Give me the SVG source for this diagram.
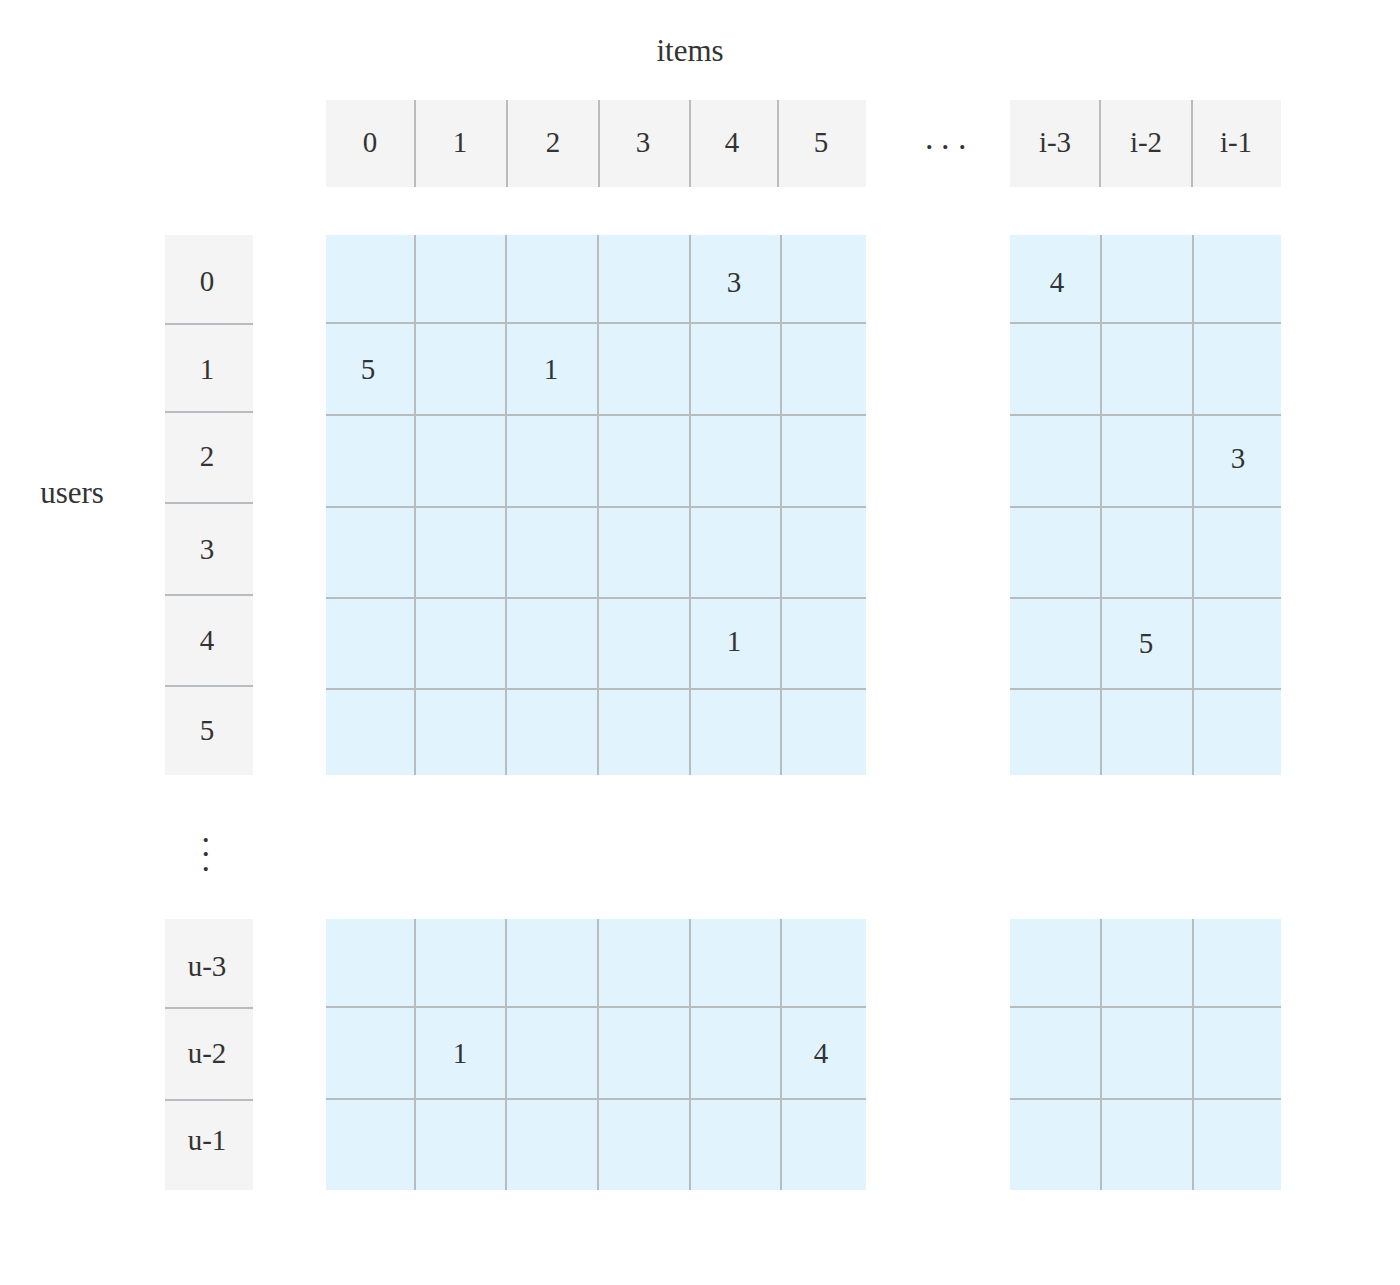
<svg xmlns="http://www.w3.org/2000/svg" width="1400" height="1285" viewBox="0 0 1400 1285">
<style>
.hd{fill:#f4f4f4}
.cl{fill:#e1f4fd}
.ln{stroke:#b9bcbe;stroke-width:2;fill:none}
.t{font-family:"Liberation Serif","Times New Roman",serif;font-size:29px;fill:#333;text-anchor:middle}
.lbl{font-family:"Liberation Serif","Times New Roman",serif;font-size:31px;fill:#333;text-anchor:middle}
.dot{font-family:"Liberation Serif","Times New Roman",serif;font-size:34px;fill:#333}
</style>
<rect width="1400" height="1285" fill="#ffffff"/>
<g id="title-items"><text class="lbl" x="690" y="61">items</text></g>
<g id="title-users"><text class="lbl" x="72" y="503">users</text></g>

<g id="item-header">
<rect class="hd" x="326" y="100" width="540" height="87"/>
<rect class="hd" x="1010" y="100" width="271" height="87"/>
<path class="ln" d="M415,100V187M507,100V187M599,100V187M690,100V187M778,100V187M1100,100V187M1192,100V187"/>
<text class="t" x="370" y="152">0</text>
<text class="t" x="460" y="152">1</text>
<text class="t" x="553" y="152">2</text>
<text class="t" x="643" y="152">3</text>
<text class="t" x="732" y="152">4</text>
<text class="t" x="821" y="152">5</text>
<text class="t" x="1055" y="152">i-3</text>
<text class="t" x="1146" y="152">i-2</text>
<text class="t" x="1236" y="152">i-1</text>
</g>
<g id="item-ellipsis"><text class="dot" x="925 941 958" y="149">...</text></g>

<g id="user-header">
<rect class="hd" x="165" y="235" width="88" height="540"/>
<rect class="hd" x="165" y="919" width="88" height="271"/>
<path class="ln" d="M165,324H253M165,412H253M165,503H253M165,595H253M165,686H253M165,1008H253M165,1100H253"/>
<text class="t" x="207" y="291">0</text>
<text class="t" x="207" y="379">1</text>
<text class="t" x="207" y="466">2</text>
<text class="t" x="207" y="559">3</text>
<text class="t" x="207" y="650">4</text>
<text class="t" x="207" y="740">5</text>
<text class="t" x="207" y="976">u-3</text>
<text class="t" x="207" y="1063">u-2</text>
<text class="t" x="207" y="1150">u-1</text>
</g>
<g id="user-ellipsis"><text class="dot" x="201.5 201.5 201.5" y="842 856 871">...</text></g>

<g id="grid-top-left">
<rect class="cl" x="326" y="235" width="540" height="540"/>
<path class="ln" d="M415,235V775M506,235V775M598,235V775M690,235V775M781,235V775M326,323H866M326,415H866M326,507H866M326,598H866M326,689H866"/>
<text class="t" x="734" y="292">3</text>
<text class="t" x="368" y="379">5</text>
<text class="t" x="551" y="379">1</text>
<text class="t" x="734" y="651">1</text>
</g>

<g id="grid-top-right">
<rect class="cl" x="1010" y="235" width="271" height="540"/>
<path class="ln" d="M1101,235V775M1193,235V775M1010,323H1281M1010,415H1281M1010,507H1281M1010,598H1281M1010,689H1281"/>
<text class="t" x="1057" y="292">4</text>
<text class="t" x="1238" y="468">3</text>
<text class="t" x="1146" y="653">5</text>
</g>

<g id="grid-bottom-left">
<rect class="cl" x="326" y="919" width="540" height="271"/>
<path class="ln" d="M415,919V1190M506,919V1190M598,919V1190M690,919V1190M781,919V1190M326,1007H866M326,1099H866"/>
<text class="t" x="460" y="1063">1</text>
<text class="t" x="821" y="1063">4</text>
</g>

<g id="grid-bottom-right">
<rect class="cl" x="1010" y="919" width="271" height="271"/>
<path class="ln" d="M1101,919V1190M1193,919V1190M1010,1007H1281M1010,1099H1281"/>
</g>

<g id="connectors"></g>
</svg>
